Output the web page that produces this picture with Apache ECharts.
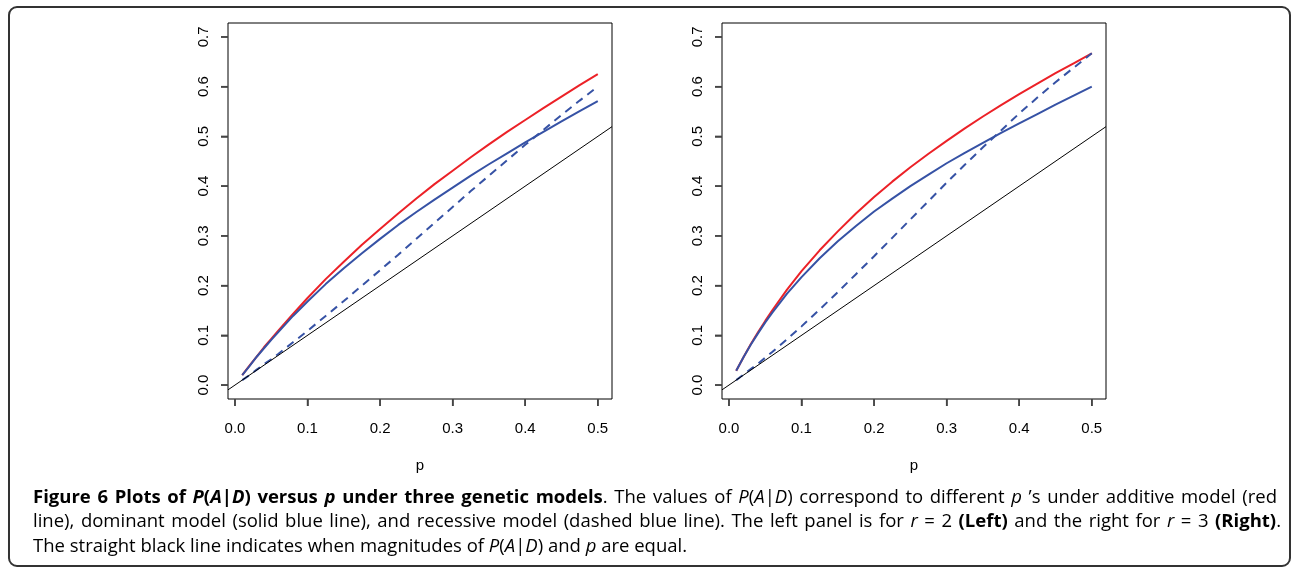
<!DOCTYPE html>
<html lang="en">

<head>
    <meta charset="UTF-8">
    <title>Figure 6</title>
    <script src="https://cdn.jsdelivr.net/npm/echarts@6/dist/echarts.min.js"></script>
</head>
<style>
    body {
        margin: 0;
        background: #fff;
    }
    #box {
        width: 1292px;
        height: 570px;
    }
</style>

<body>
    <div id="box"></div>
    <script>
        // allele frequency p
        var pGrid = [0.01, 0.02, 0.03, 0.04, 0.05, 0.06, 0.08, 0.1, 0.125, 0.15, 0.175, 0.2, 0.225, 0.25, 0.275, 0.3, 0.325, 0.35, 0.375, 0.4, 0.425, 0.45, 0.475, 0.5]
        // left panel, r = 2
        var addL = [0.020, 0.039, 0.057, 0.076, 0.093, 0.110, 0.143, 0.175, 0.213, 0.248, 0.282, 0.314, 0.345, 0.375, 0.404, 0.431, 0.458, 0.484, 0.509, 0.533, 0.557, 0.580, 0.603, 0.625]
        var domL = [0.020, 0.038, 0.057, 0.074, 0.091, 0.107, 0.139, 0.168, 0.203, 0.235, 0.265, 0.294, 0.322, 0.348, 0.373, 0.397, 0.421, 0.444, 0.466, 0.488, 0.509, 0.530, 0.551, 0.571]
        var recL = [0.010, 0.020, 0.031, 0.042, 0.052, 0.063, 0.086, 0.109, 0.139, 0.169, 0.200, 0.231, 0.262, 0.294, 0.326, 0.358, 0.390, 0.421, 0.452, 0.483, 0.513, 0.543, 0.572, 0.600]
        // right panel, r = 3
        var addR = [0.029, 0.056, 0.082, 0.106, 0.129, 0.151, 0.192, 0.229, 0.271, 0.309, 0.345, 0.378, 0.409, 0.438, 0.465, 0.491, 0.516, 0.540, 0.563, 0.585, 0.606, 0.627, 0.647, 0.667]
        var domR = [0.029, 0.056, 0.081, 0.104, 0.126, 0.146, 0.184, 0.217, 0.255, 0.289, 0.320, 0.349, 0.375, 0.400, 0.423, 0.446, 0.467, 0.487, 0.507, 0.526, 0.545, 0.564, 0.582, 0.600]
        var recR = [0.010, 0.021, 0.032, 0.043, 0.055, 0.067, 0.092, 0.118, 0.152, 0.187, 0.223, 0.259, 0.296, 0.333, 0.370, 0.407, 0.443, 0.478, 0.512, 0.546, 0.578, 0.609, 0.638, 0.667]
        // axis extents (R style: data range padded 4%)
        var diagX = [-0.0096, 0.5196]
        var yRange = [-0.028, 0.728]
        var xTicks = [0, 0.1, 0.2, 0.3, 0.4, 0.5]
        var yTicks = [0, 0.1, 0.2, 0.3, 0.4, 0.5, 0.6, 0.7]

        var RED = '#ec2127'
        var BLUE = '#3652a5'
        var TICK = '#444'
        var AXFONT = "'Liberation Sans', Arial, sans-serif"

        function pairs(ys) {
            return pGrid.map(function (p, i) { return [p, ys[i]] })
        }

        function xAxisFor(idx) {
            return {
                gridIndex: idx,
                type: 'value',
                min: diagX[0],
                max: diagX[1],
                name: 'p',
                nameLocation: 'middle',
                nameGap: 59,
                nameTextStyle: { color: '#000', fontSize: 15, fontFamily: AXFONT },
                axisLine: { show: false, onZero: false },
                splitLine: { show: false },
                axisTick: { show: true, inside: false, length: 7, customValues: xTicks, lineStyle: { color: TICK, width: 1.5 } },
                axisLabel: {
                    customValues: xTicks, margin: 22, color: '#000', fontSize: 15, fontFamily: AXFONT,
                    formatter: function (v) { return v.toFixed(1) }
                }
            }
        }

        function yAxisFor(idx) {
            return {
                gridIndex: idx,
                type: 'value',
                min: yRange[0],
                max: yRange[1],
                axisLine: { show: false, onZero: false },
                splitLine: { show: false },
                axisTick: { show: true, inside: false, length: 7, customValues: yTicks, lineStyle: { color: TICK, width: 1.5 } },
                axisLabel: {
                    customValues: yTicks, rotate: 90, margin: 17, color: '#000', fontSize: 15, fontFamily: AXFONT,
                    formatter: function (v) { return v.toFixed(1) }
                }
            }
        }

        function panel(idx, add, dom, rec) {
            return [
                {
                    type: 'line', xAxisIndex: idx, yAxisIndex: idx, data: pairs(add), showSymbol: false,
                    lineStyle: { color: RED, width: 2 }
                },
                {
                    type: 'line', xAxisIndex: idx, yAxisIndex: idx, data: pairs(dom), showSymbol: false,
                    lineStyle: { color: BLUE, width: 2 }
                },
                {
                    type: 'line', xAxisIndex: idx, yAxisIndex: idx, data: pairs(rec), showSymbol: false,
                    lineStyle: { color: BLUE, width: 2, type: [8, 6] }
                },
                {
                    type: 'line', xAxisIndex: idx, yAxisIndex: idx, showSymbol: false,
                    data: diagX.map(function (v) { return [v, v] }),
                    lineStyle: { color: '#000', width: 1 }
                }
            ]
        }

        // caption
        var capFont = "'Open Sans', 'Noto Sans', sans-serif"
        var capSize = 18.5
        var capStyles = {
            n: { color: '#4a4a4a' },
            i: { color: '#4a4a4a', fontStyle: 'italic' },
            b: { color: '#262626', fontWeight: 'bold' },
            bi: { color: '#262626', fontWeight: 'bold', fontStyle: 'italic' }
        }
        var capLines = [
            [['b', 'Figure 6 Plots of '], ['bi', 'P'], ['b', '('], ['bi', 'A'], ['b', '|'], ['bi', 'D'], ['b', ') versus '], ['bi', 'p'],
             ['b', ' under three genetic models'], ['n', '. The values of '], ['i', 'P'], ['n', '('], ['i', 'A'], ['n', '|'], ['i', 'D'],
             ['n', ') correspond to different '], ['i', 'p'], ['n', ' \u2019s under additive model (red']],
            [['n', 'line), dominant model (solid blue line), and recessive model (dashed blue line). The left panel is for '], ['i', 'r'],
             ['n', ' = 2 '], ['b', '(Left)'], ['n', ' and the right for '], ['i', 'r'], ['n', ' = 3 '], ['b', '(Right)'], ['n', '.']],
            [['n', 'The straight black line indicates when magnitudes of '], ['i', 'P'], ['n', '('], ['i', 'A'], ['n', '|'], ['i', 'D'],
             ['n', ') and '], ['i', 'p'], ['n', ' are equal.']]
        ]
        var capLeft = 33
        var capRight = [1277, 1281, null]
        var capMid = [497, 521, 546]

        var ctx = document.createElement('canvas').getContext('2d')
        function fontOf(s) {
            var st = capStyles[s]
            return (st.fontStyle || 'normal') + ' ' + (st.fontWeight || 'normal') + ' ' + capSize + 'px ' + capFont
        }
        function measure(s, t) {
            ctx.font = fontOf(s)
            return ctx.measureText(t).width
        }

        // justify a caption line by widening its spaces
        function buildLine(segs, right, k) {
            var rich = {}
            Object.keys(capStyles).forEach(function (s) {
                rich[s] = Object.assign({ fontFamily: capFont, fontSize: capSize }, capStyles[s])
            })
            var natural = 0, gaps = 0
            segs.forEach(function (sg) {
                natural += measure(sg[0], sg[1])
                gaps += (sg[1].match(/ /g) || []).length
            })
            var extra = right && gaps ? (right - capLeft - natural) / gaps : 0
            var str = ''
            segs.forEach(function (sg) {
                var parts = sg[1].split(' ')
                parts.forEach(function (w, j) {
                    if (j > 0) {
                        var g = 'g' + sg[0]
                        if (!rich[g]) {
                            rich[g] = Object.assign({ fontFamily: capFont, fontSize: capSize, width: measure(sg[0], ' ') + extra }, capStyles[sg[0]])
                        }
                        str += '{' + g + '| }'
                    }
                    if (w) str += '{' + sg[0] + '|' + w + '}'
                })
            })
            return {
                type: 'text', left: capLeft, top: capMid[k] - capSize / 2,
                style: { text: str, rich: rich }, silent: true
            }
        }

        var graphics = [{
            type: 'rect',
            shape: { x: 9, y: 7, width: 1281, height: 559, r: 8 },
            style: { fill: 'none', stroke: '#333', lineWidth: 2 },
            silent: true
        }]
        capLines.forEach(function (segs, k) {
            graphics.push(buildLine(segs, capRight[k], k))
        })

        var chartDom = document.getElementById('box');
        var myChart = echarts.init(chartDom);
        var option = {
            animation: false,
            backgroundColor: '#fff',
            grid: [
                { left: 228, top: 23, width: 384, height: 376, show: true, borderColor: '#000', borderWidth: 1 },
                { left: 722, top: 23, width: 384, height: 376, show: true, borderColor: '#000', borderWidth: 1 }
            ],
            xAxis: [xAxisFor(0), xAxisFor(1)],
            yAxis: [yAxisFor(0), yAxisFor(1)],
            series: panel(0, addL, domL, recL).concat(panel(1, addR, domR, recR)),
            graphic: graphics
        };

        option && myChart.setOption(option);

        // outward tick marks, placed from each panel's own scales
        var tickMarks = []
        ;[0, 1].forEach(function (idx) {
            xTicks.forEach(function (v) {
                var pt = myChart.convertToPixel({ gridIndex: idx }, [v, yRange[0]])
                tickMarks.push({ type: 'line', silent: true, z: 10, shape: { x1: pt[0], y1: pt[1], x2: pt[0], y2: pt[1] + 7 }, style: { stroke: TICK, lineWidth: 1.5 } })
            })
            yTicks.forEach(function (v) {
                var pt = myChart.convertToPixel({ gridIndex: idx }, [diagX[0], v])
                tickMarks.push({ type: 'line', silent: true, z: 10, shape: { x1: pt[0], y1: pt[1], x2: pt[0] - 7, y2: pt[1] }, style: { stroke: TICK, lineWidth: 1.5 } })
            })
        })
        myChart.setOption({ graphic: graphics.concat(tickMarks) })
    </script>
</body>

</html>
